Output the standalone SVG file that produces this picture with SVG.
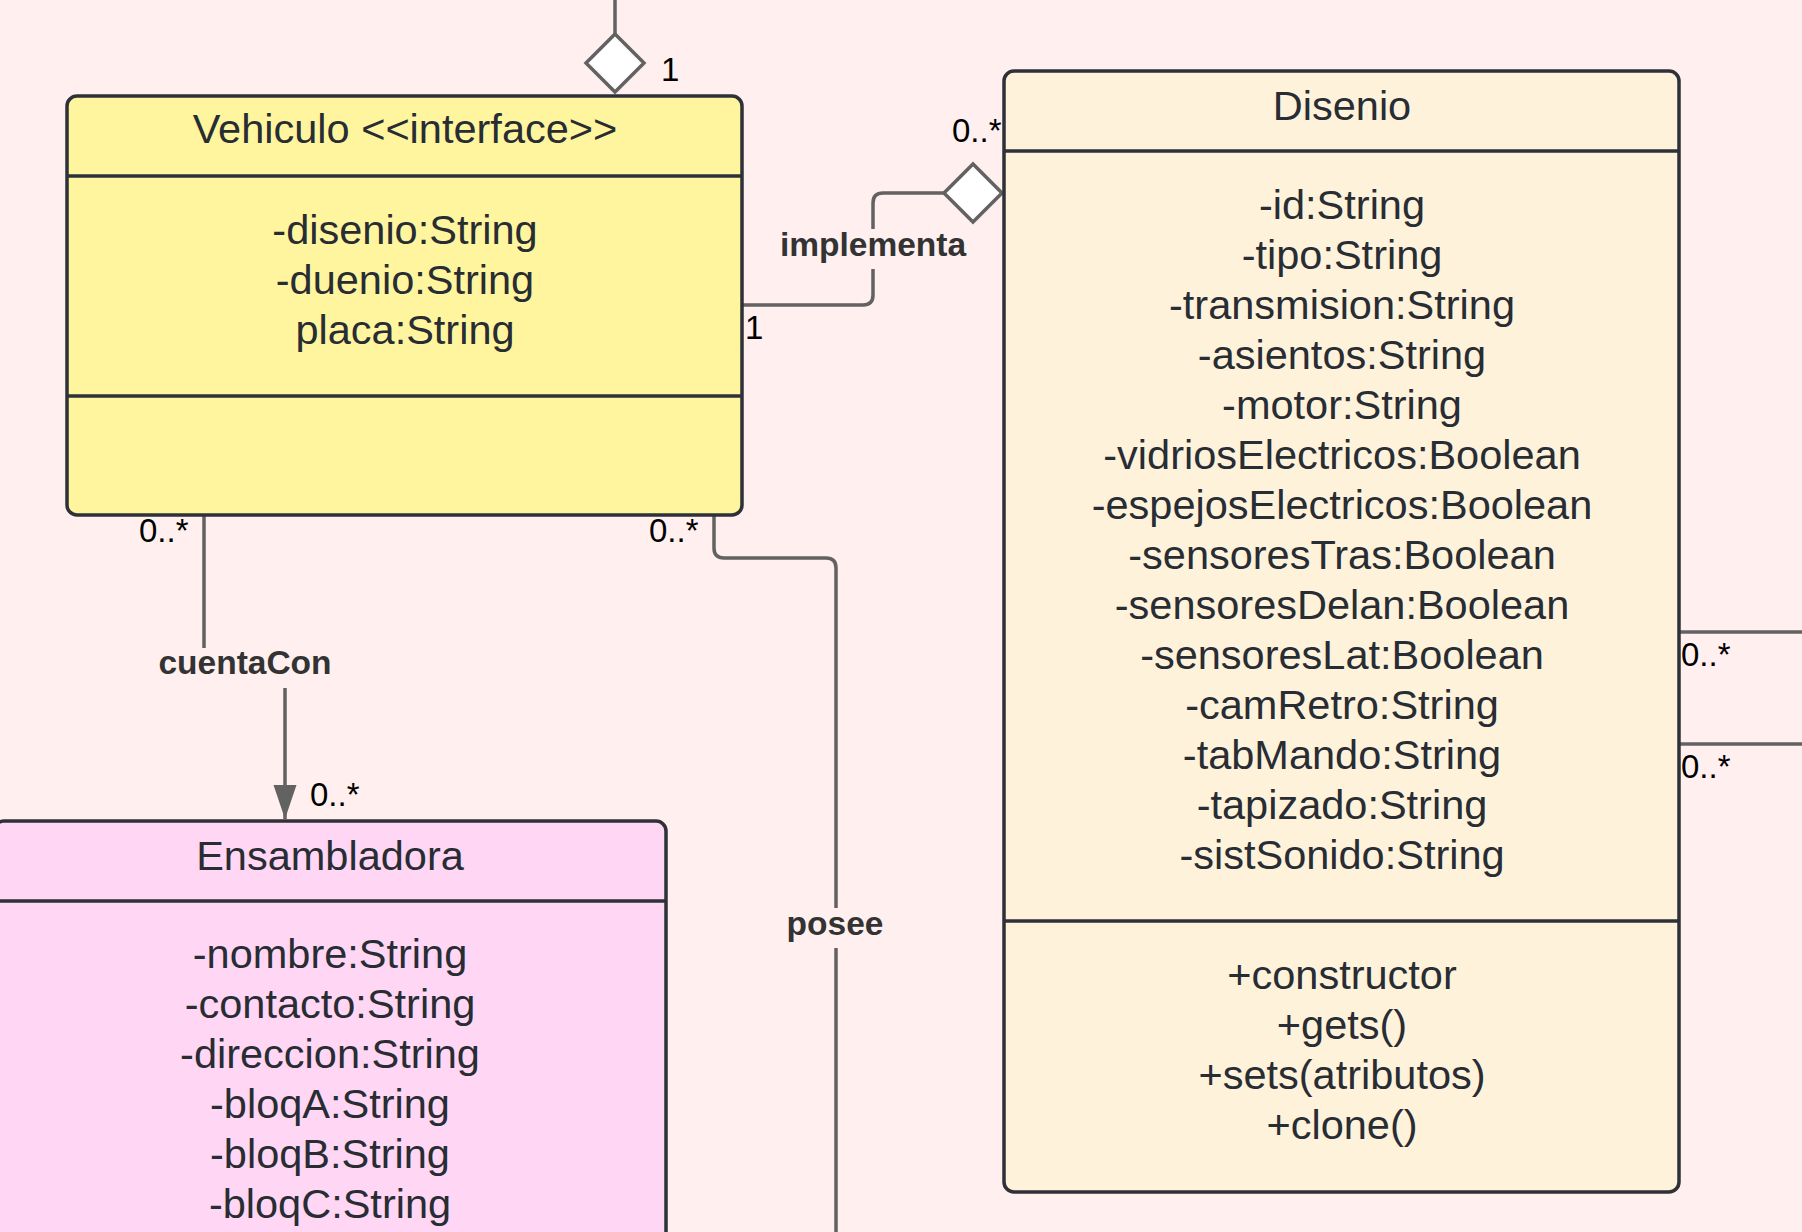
<svg xmlns="http://www.w3.org/2000/svg" width="1802" height="1232" viewBox="0 0 1802 1232">
<defs>
<style>
.box{stroke:#2e3138;stroke-width:3.5}
.div{stroke:#2e3138;stroke-width:3.5}
.t{font-family:"Liberation Sans",Arial,sans-serif;font-size:41.5px;fill:#282c33;text-anchor:middle}
.m{font-family:"Liberation Sans",Arial,sans-serif;font-size:33px;fill:#000}
.lbl{font-family:"Liberation Sans",Arial,sans-serif;font-size:33.5px;font-weight:bold;fill:#333;text-anchor:middle}
.ln{fill:none;stroke:#626262;stroke-width:3.5}
.dia{fill:#fff;stroke:#626262;stroke-width:3.5}
.bg{fill:#fff0ef}
</style>
<marker id="arr" markerUnits="userSpaceOnUse" markerWidth="36" markerHeight="24" refX="34" refY="12" orient="auto" viewBox="0 0 36 24">
<path d="M0,0.5 L34,12 L0,23.5 Z" fill="#626262"/>
</marker>
</defs>
<rect width="1802" height="1232" class="bg"/>

<g id="connectors">
<path class="ln" d="M615,0 V34"/>
<polygon class="dia" points="615,34 644,63 615,92 586,63"/>
<path class="ln" d="M742,305 H863 Q873,305 873,295 V203 Q873,193 883,193 H944"/>
<polygon class="dia" points="944,193 973,164 1002,193 973,222"/>
<rect class="bg" x="776" y="229" width="194" height="40"/>
<text class="lbl" x="873" y="256">implementa</text>
<path class="ln" d="M204,515 V665 H285 V819" marker-end="url(#arr)"/>
<rect class="bg" x="154" y="648" width="182" height="40"/>
<text class="lbl" x="245" y="674">cuentaCon</text>
<path class="ln" d="M714,515 V548 Q714,558 724,558 H826 Q836,558 836,568 V1232"/>
<rect class="bg" x="782" y="908" width="108" height="40"/>
<text class="lbl" x="835" y="935">posee</text>
<path class="ln" d="M1679,632 H1802"/>
<path class="ln" d="M1679,744 H1802"/>
<text class="m" x="661" y="81">1</text>
<text class="m" x="952" y="142">0..*</text>
<text class="m" x="745" y="339">1</text>
<text class="m" x="139" y="542">0..*</text>
<text class="m" x="649" y="542">0..*</text>
<text class="m" x="310" y="806">0..*</text>
<text class="m" x="1681" y="666">0..*</text>
<text class="m" x="1681" y="778">0..*</text>
</g>

<g id="vehiculo">
<rect class="box" x="67" y="96" width="675" height="419" rx="10" fill="#fff59e"/>
<line class="div" x1="67" y1="176" x2="742" y2="176"/>
<line class="div" x1="67" y1="396" x2="742" y2="396"/>
<text class="t" x="405" y="143">Vehiculo &lt;&lt;interface&gt;&gt;</text>
<text class="t" x="405" y="244">-disenio:String</text>
<text class="t" x="405" y="294">-duenio:String</text>
<text class="t" x="405" y="344">placa:String</text>
</g>

<g id="disenio">
<rect class="box" x="1004" y="71" width="675" height="1121" rx="10" fill="#fff2db"/>
<line class="div" x1="1004" y1="151" x2="1679" y2="151"/>
<line class="div" x1="1004" y1="921" x2="1679" y2="921"/>
<text class="t" x="1342" y="120">Disenio</text>
<text class="t" x="1342" y="219">-id:String</text>
<text class="t" x="1342" y="269">-tipo:String</text>
<text class="t" x="1342" y="319">-transmision:String</text>
<text class="t" x="1342" y="369">-asientos:String</text>
<text class="t" x="1342" y="419">-motor:String</text>
<text class="t" x="1342" y="469">-vidriosElectricos:Boolean</text>
<text class="t" x="1342" y="519">-espejosElectricos:Boolean</text>
<text class="t" x="1342" y="569">-sensoresTras:Boolean</text>
<text class="t" x="1342" y="619">-sensoresDelan:Boolean</text>
<text class="t" x="1342" y="669">-sensoresLat:Boolean</text>
<text class="t" x="1342" y="719">-camRetro:String</text>
<text class="t" x="1342" y="769">-tabMando:String</text>
<text class="t" x="1342" y="819">-tapizado:String</text>
<text class="t" x="1342" y="869">-sistSonido:String</text>
<text class="t" x="1342" y="989">+constructor</text>
<text class="t" x="1342" y="1039">+gets()</text>
<text class="t" x="1342" y="1089">+sets(atributos)</text>
<text class="t" x="1342" y="1139">+clone()</text>
</g>

<g id="ensambladora">
<rect class="box" x="-6" y="821" width="672" height="500" rx="10" fill="#ffd6f4"/>
<line class="div" x1="-6" y1="901" x2="666" y2="901"/>
<text class="t" x="330" y="870">Ensambladora</text>
<text class="t" x="330" y="968">-nombre:String</text>
<text class="t" x="330" y="1018">-contacto:String</text>
<text class="t" x="330" y="1068">-direccion:String</text>
<text class="t" x="330" y="1118">-bloqA:String</text>
<text class="t" x="330" y="1168">-bloqB:String</text>
<text class="t" x="330" y="1218">-bloqC:String</text>
</g>
</svg>
